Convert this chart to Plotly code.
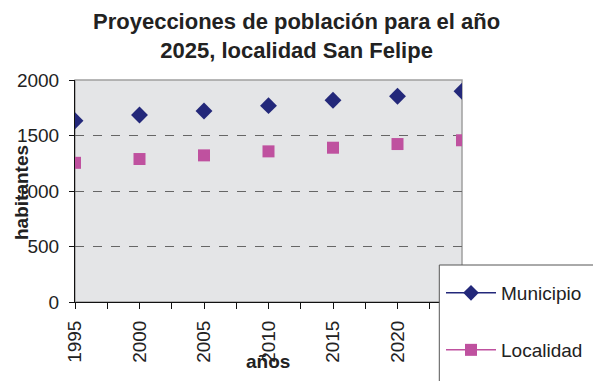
import plotly.graph_objects as go

# Projected population by year
anios = [1995, 2000, 2005, 2010, 2015, 2020, 2025]
municipio = [1633, 1685, 1721, 1769, 1817, 1853, 1899]
localidad = [1254, 1288, 1321, 1357, 1390, 1423, 1457]

navy = "#23287a"
magenta = "#bf519f"
font_family = "Arial, Liberation Sans, sans-serif"

fig = go.Figure()

# data points (markers only)
fig.add_trace(go.Scatter(x=anios, y=municipio, mode="markers", showlegend=False,
                         marker=dict(symbol="diamond", size=13, color=navy)))
fig.add_trace(go.Scatter(x=anios, y=localidad, mode="markers", showlegend=False,
                         marker=dict(symbol="square", size=12, color=magenta)))

# legend entries with a line through the symbol
fig.add_trace(go.Scatter(x=[None], y=[None], mode="lines+markers", name="Municipio",
                         legend="legend",
                         line=dict(color=navy, width=1.5),
                         marker=dict(symbol="diamond", size=12, color=navy)))
fig.add_trace(go.Scatter(x=[None], y=[None], mode="lines+markers", name="Localidad",
                         legend="legend2",
                         line=dict(color=magenta, width=1.5),
                         marker=dict(symbol="square", size=12, color=magenta)))

L, R, T, B = 75, 131, 80, 79
PW = 593 - L - R
PH = 381 - T - B


def px_x(p):
    return (p - L) / PW


def px_y(p):
    return (381 - B - p) / PH


fig.update_layout(
    width=593, height=381,
    margin=dict(l=L, r=R, t=T, b=B, autoexpand=False),
    paper_bgcolor="white",
    plot_bgcolor="#e4e5e7",
    font=dict(family=font_family, color="#222222", size=19),
    xaxis=dict(
        range=[1995, 2025], dtick=5, tick0=1995,
        showgrid=False, zeroline=False,
        showline=True, linecolor="#111111", linewidth=1,
        ticks="outside", ticklen=6, tickcolor="#111111",
        minor=dict(dtick=2.5, tick0=1995, ticks="outside", ticklen=6, tickcolor="#111111"),
        tickangle=-90, ticklabelstandoff=4,
        tickfont=dict(size=19),
    ),
    yaxis=dict(
        range=[0, 2000], dtick=500,
        showgrid=True, gridcolor="#666666", griddash="dash", gridwidth=1,
        zeroline=False,
        showline=True, linecolor="#111111", linewidth=1,
        ticks="outside", ticklen=5, tickcolor="#111111",
        ticklabelstandoff=6,
        tickfont=dict(size=19),
    ),
    legend=dict(
        x=px_x(441), xanchor="left",
        y=px_y(293), yanchor="middle",
        bgcolor="rgba(0,0,0,0)", borderwidth=0,
        itemwidth=50, font=dict(size=19, color="#222222"),
    ),
    legend2=dict(
        x=px_x(441), xanchor="left",
        y=px_y(350), yanchor="middle",
        bgcolor="rgba(0,0,0,0)", borderwidth=0,
        itemwidth=50, font=dict(size=19, color="#222222"),
    ),
    annotations=[
        dict(text="<b>Proyecciones de población para el año<br>2025, localidad San Felipe</b>",
             xref="paper", yref="paper", x=px_x(296), y=px_y(36),
             xanchor="center", yanchor="middle", showarrow=False,
             font=dict(size=22, color="#222222")),
        dict(text="<b>años</b>", xref="paper", yref="paper",
             x=px_x(268), xanchor="center", y=px_y(361), yanchor="middle",
             showarrow=False, font=dict(size=19, color="#222222")),
        dict(text="<b>habitantes</b>", xref="paper", yref="paper",
             x=px_x(21), xanchor="center", y=px_y(193), yanchor="middle",
             textangle=-90, showarrow=False,
             font=dict(size=19, color="#222222")),
    ],
    shapes=[
        # light plot border (top/right)
        dict(type="rect", xref="paper", yref="paper", x0=0, x1=1, y0=0, y1=1,
             line=dict(color="#a0a0a0", width=1.5), layer="below"),
        # legend box
        dict(type="rect", xref="paper", yref="paper",
             x0=px_x(439.3), x1=px_x(610),
             y0=px_y(400), y1=px_y(265),
             fillcolor="white", line=dict(color="#555555", width=1), layer="above"),
    ],
)

fig.write_html("out.html")
